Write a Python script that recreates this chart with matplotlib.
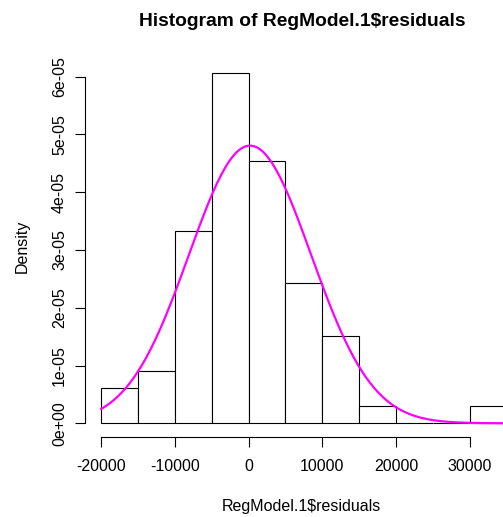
import numpy as np
import matplotlib
matplotlib.use('Agg')
import matplotlib.pyplot as plt

# histogram bins of the residuals (counts per 5000-wide bin)
bin_edges = [-20000, -15000, -10000, -5000, 0, 5000, 10000, 15000, 20000, 25000, 30000, 35000]
counts = [2, 3, 11, 20, 15, 8, 5, 1, 0, 0, 1]

# fitted normal curve
fit_mean = 200
fit_sd = 8300

x_ticks = [-20000, -10000, 0, 10000, 20000, 30000]
x_tick_labels = ['-20000', '-10000', '0', '10000', '20000', '30000']
y_ticks = [0, 1e-05, 2e-05, 3e-05, 4e-05, 5e-05, 6e-05]
y_tick_labels = ['0e+00', '1e-05', '2e-05', '3e-05', '4e-05', '5e-05', '6e-05']

plt.rcParams['font.family'] = ['Liberation Sans', 'DejaVu Sans']

W, H = 503, 517
fig = plt.figure(figsize=(W / 100, H / 100), dpi=100)
ax = fig.add_axes([85 / W, 1 - 437.3 / H, (503 - 85) / W, (437.3 - 59.2) / H])

# density = count / (n * binwidth)
n = sum(counts)
widths = np.diff(bin_edges)
density = np.array(counts) / (n * widths)
ax.bar(bin_edges[:-1], density, width=widths, align='edge',
       color='white', edgecolor='black', linewidth=0.8)

xs = np.linspace(bin_edges[0], bin_edges[-1], 200)
ys = np.exp(-0.5 * ((xs - fit_mean) / fit_sd) ** 2) / (fit_sd * np.sqrt(2 * np.pi))
ax.plot(xs, ys, color='#ff00ff', linewidth=1.6)

ax.set_xlim(-22200, 34540)
ax.set_ylim(-0.04 * density.max(), 1.04 * density.max())

# R style axes: only left/bottom, spanning first to last tick
for s in ['top', 'right']:
    ax.spines[s].set_visible(False)
ax.spines['left'].set_bounds(y_ticks[0], y_ticks[-1])
ax.spines['bottom'].set_bounds(x_ticks[0], x_ticks[-1])
for s in ['left', 'bottom']:
    ax.spines[s].set_linewidth(0.8)

ax.set_xticks(x_ticks)
ax.set_xticklabels(x_tick_labels)
ax.set_yticks(y_ticks)
ax.set_yticklabels(y_tick_labels, rotation=90, va='center')
ax.tick_params(direction='out', length=6.9, width=0.8, labelsize=11.5)
ax.tick_params(axis='x', pad=9)
ax.tick_params(axis='y', pad=6)

fig.text(302.5 / W, 1 - 21 / H, 'Histogram of RegModel.1$residuals',
         ha='center', va='center', fontsize=13.9, fontweight='bold')
fig.text(301.7 / W, 1 - 506 / H, 'RegModel.1$residuals',
         ha='center', va='center', fontsize=11.5)
fig.text(22 / W, 1 - 246 / H, 'Density', rotation=90,
         ha='center', va='center', fontsize=11.5)

fig.savefig('out.png', dpi=100)
